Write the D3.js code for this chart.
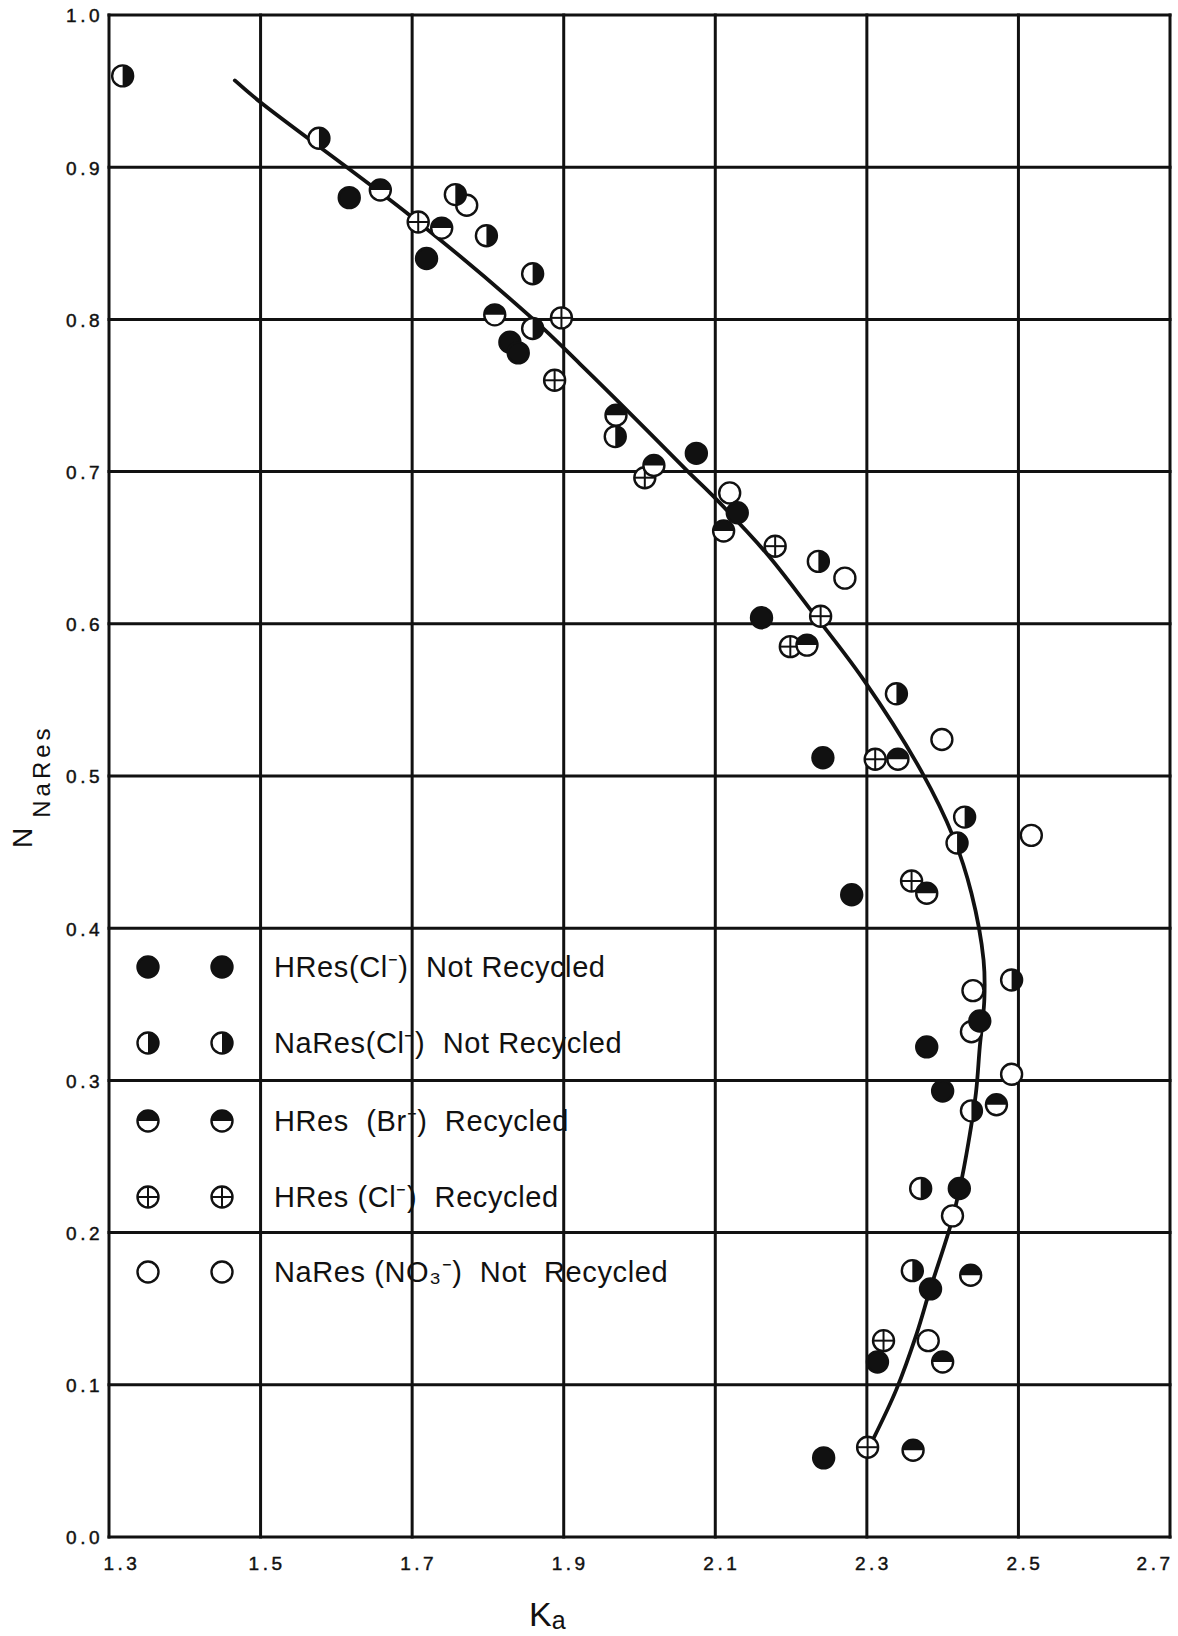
<!DOCTYPE html>
<html>
<head>
<meta charset="utf-8">
<script src="https://cdn.jsdelivr.net/npm/d3@7"></script>
<style>
  html, body { margin: 0; padding: 0; background: #fff; }
  svg { display: block; }
</style>
</head>
<body>
<svg id="chart" width="1178" height="1636"></svg>
<script>
// ---- Axis ticks ----
const xTicks = [1.3, 1.5, 1.7, 1.9, 2.1, 2.3, 2.5, 2.7];
const yTicks = [0.0, 0.1, 0.2, 0.3, 0.4, 0.5, 0.6, 0.7, 0.8, 0.9, 1.0];

// ---- Series (Ka, N_NaRes) ----
const hresClNotRecycledK = [1.617, 1.719, 1.829, 1.840, 2.075, 2.129, 2.161, 2.242, 2.280, 2.449, 2.379, 2.400, 2.422, 2.384, 2.314, 2.243];
const hresClNotRecycledN = [0.880, 0.840, 0.785, 0.778, 0.712, 0.673, 0.604, 0.512, 0.422, 0.339, 0.322, 0.293, 0.229, 0.163, 0.115, 0.052];

const naresClNotRecycledK = [1.318, 1.577, 1.757, 1.798, 1.859, 1.859, 1.968, 2.236, 2.339, 2.429, 2.419, 2.491, 2.438, 2.371, 2.360];
const naresClNotRecycledN = [0.960, 0.919, 0.882, 0.855, 0.830, 0.794, 0.723, 0.641, 0.554, 0.473, 0.456, 0.366, 0.280, 0.229, 0.175];

const hresBrRecycledK = [1.658, 1.739, 1.809, 1.969, 2.019, 2.111, 2.221, 2.341, 2.379, 2.471, 2.437, 2.400, 2.361];
const hresBrRecycledN = [0.885, 0.860, 0.803, 0.737, 0.704, 0.661, 0.586, 0.511, 0.423, 0.284, 0.172, 0.115, 0.057];

const hresClRecycledK = [1.708, 1.897, 1.888, 2.007, 2.179, 2.239, 2.199, 2.311, 2.359, 2.322, 2.301];
const hresClRecycledN = [0.864, 0.801, 0.760, 0.696, 0.651, 0.605, 0.585, 0.511, 0.431, 0.129, 0.059];

const naresNO3NotRecycledK = [1.772, 2.119, 2.271, 2.399, 2.517, 2.440, 2.438, 2.491, 2.413, 2.381];
const naresNO3NotRecycledN = [0.875, 0.686, 0.630, 0.524, 0.461, 0.359, 0.332, 0.304, 0.211, 0.129];

// ---- Smoothed fit curve ----
const curveK = [1.466, 1.499, 1.698, 1.860, 1.921, 1.970, 2.064, 2.097, 2.168, 2.223, 2.296, 2.372, 2.414, 2.438, 2.454, 2.455, 2.449, 2.444, 2.434, 2.423, 2.410, 2.383, 2.366, 2.339, 2.308];
const curveN = [0.957, 0.943, 0.868, 0.800, 0.771, 0.747, 0.700, 0.684, 0.646, 0.611, 0.563, 0.503, 0.460, 0.423, 0.379, 0.353, 0.322, 0.292, 0.259, 0.230, 0.204, 0.162, 0.134, 0.097, 0.064];

// ---- Legend ----
const legendLabels = [
  "HRes(Cl\u207B)  Not Recycled",
  "NaRes(Cl\u207B)  Not Recycled",
  "HRes  (Br\u207B)  Recycled",
  "HRes (Cl\u207B)  Recycled",
  "NaRes (NO\u2083\u207B)  Not  Recycled"
];
const legendSymbols = ["filled", "vhalf", "hhalf", "cross", "open"];

const series = [
  { symbol: "open",   k: naresNO3NotRecycledK, n: naresNO3NotRecycledN },
  { symbol: "cross",  k: hresClRecycledK,      n: hresClRecycledN },
  { symbol: "hhalf",  k: hresBrRecycledK,      n: hresBrRecycledN },
  { symbol: "vhalf",  k: naresClNotRecycledK,  n: naresClNotRecycledN },
  { symbol: "filled", k: hresClNotRecycledK,   n: hresClNotRecycledN }
];

// ---- Layout ----
const W = 1178, H = 1636;
const plot = { left: 109, right: 1170, top: 15, bottom: 1537 };
const INK = "#111";
const FONT = "'Liberation Sans', Arial, sans-serif";

const svg = d3.select("#chart");
svg.append("rect").attr("width", W).attr("height", H).attr("fill", "#fff");

const x = d3.scaleLinear().domain([1.3, 2.7]).range([plot.left, plot.right]);
const y = d3.scaleLinear().domain([0, 1]).range([plot.bottom, plot.top]);

// Grid (vertical and horizontal rules)
const grid = svg.append("g");
grid.selectAll("line.v").data(xTicks).join("line")
  .attr("x1", d => x(d)).attr("x2", d => x(d))
  .attr("y1", plot.top - 1.5).attr("y2", plot.bottom + 1.5)
  .attr("stroke", INK).attr("stroke-width", 3);
grid.selectAll("line.h").data(yTicks).join("line")
  .attr("y1", d => y(d)).attr("y2", d => y(d))
  .attr("x1", plot.left - 1.5).attr("x2", plot.right + 1.5)
  .attr("stroke", INK).attr("stroke-width", 3);

// Axis tick labels via d3 axes
const tickStyle = sel => sel
  .attr("font-family", FONT).attr("font-size", 19).attr("letter-spacing", 3.5)
  .attr("fill", INK).attr("stroke", INK).attr("stroke-width", 0.45);

const xAxis = svg.append("g")
  .attr("transform", `translate(0,${plot.bottom})`)
  .call(d3.axisBottom(x).tickValues(xTicks).tickSize(0).tickPadding(0).tickFormat(d3.format(".1f")));
xAxis.select(".domain").remove();
xAxis.selectAll("text")
  .call(tickStyle)
  .attr("dy", null).attr("y", 33)
  .attr("text-anchor", (d, i) => i === 0 ? "start" : (i === xTicks.length - 1 ? "end" : "middle"))
  .attr("x", (d, i) => i === 0 ? -6 : (i === xTicks.length - 1 ? 3 : 6));

const yAxis = svg.append("g")
  .attr("transform", `translate(${plot.left},0)`)
  .call(d3.axisLeft(y).tickValues(yTicks).tickSize(0).tickPadding(0).tickFormat(d3.format(".1f")));
yAxis.select(".domain").remove();
yAxis.selectAll("text")
  .call(tickStyle)
  .attr("x", -6).attr("dy", "0.36em")
  .attr("text-anchor", "end");

// Axis titles
svg.append("text")
  .attr("x", 529).attr("y", 1626)
  .attr("font-family", FONT).attr("fill", INK)
  .call(t => {
    t.append("tspan").attr("font-size", 34).text("K");
    t.append("tspan").attr("font-size", 25).attr("dy", 3).text("a");
  });

svg.append("text")
  .attr("transform", "translate(32,848) rotate(-90)")
  .attr("font-family", FONT).attr("fill", INK)
  .call(t => {
    t.append("tspan").attr("font-size", 28).text("N");
    t.append("tspan").attr("font-size", 24).attr("dx", 10).attr("dy", 18)
      .attr("letter-spacing", 4).text("NaRes");
  });

// Marker drawing
const R = 10.5;
const halfRight = d3.arc()({ innerRadius: 0, outerRadius: R, startAngle: 0, endAngle: Math.PI });
const halfTop = d3.arc()({ innerRadius: 0, outerRadius: R, startAngle: -Math.PI / 2, endAngle: Math.PI / 2 });

function drawMarker(g, symbol) {
  g.append("circle").attr("r", R)
    .attr("fill", symbol === "filled" ? INK : "#fff")
    .attr("stroke", INK).attr("stroke-width", 2.4);
  if (symbol === "vhalf") g.append("path").attr("d", halfRight).attr("fill", INK);
  if (symbol === "hhalf") g.append("path").attr("d", halfTop).attr("fill", INK);
  if (symbol === "cross") {
    g.append("line").attr("x1", -R).attr("x2", R).attr("stroke", INK).attr("stroke-width", 2);
    g.append("line").attr("y1", -R).attr("y2", R).attr("stroke", INK).attr("stroke-width", 2);
  }
}

// Fit curve
const curvePts = curveK.map((k, i) => [k, curveN[i]]);
svg.append("path")
  .datum(curvePts)
  .attr("fill", "none").attr("stroke", INK).attr("stroke-width", 3.8)
  .attr("stroke-linecap", "round")
  .attr("d", d3.line().x(d => x(d[0])).y(d => y(d[1])).curve(d3.curveCatmullRom.alpha(0.5)));

// Data points
series.forEach(s => {
  const pts = s.k.map((k, i) => ({ k, n: s.n[i] }));
  svg.append("g").selectAll("g").data(pts).join("g")
    .attr("transform", d => `translate(${x(d.k)},${y(d.n)})`)
    .each(function () { drawMarker(d3.select(this), s.symbol); });
});

// Legend
const legendRowY = [967, 1043, 1121, 1197, 1272];
const legend = svg.append("g");
legendLabels.forEach((label, i) => {
  const row = legend.append("g").attr("transform", `translate(0,${legendRowY[i]})`);
  [148, 222].forEach(cx => drawMarker(row.append("g").attr("transform", `translate(${cx},0)`), legendSymbols[i]));
  row.append("text")
    .attr("x", 274).attr("y", 10)
    .attr("xml:space", "preserve").style("white-space", "pre")
    .attr("font-family", FONT).attr("font-size", 29).attr("letter-spacing", 0.6)
    .attr("fill", INK).text(label);
});
</script>
</body>
</html>
